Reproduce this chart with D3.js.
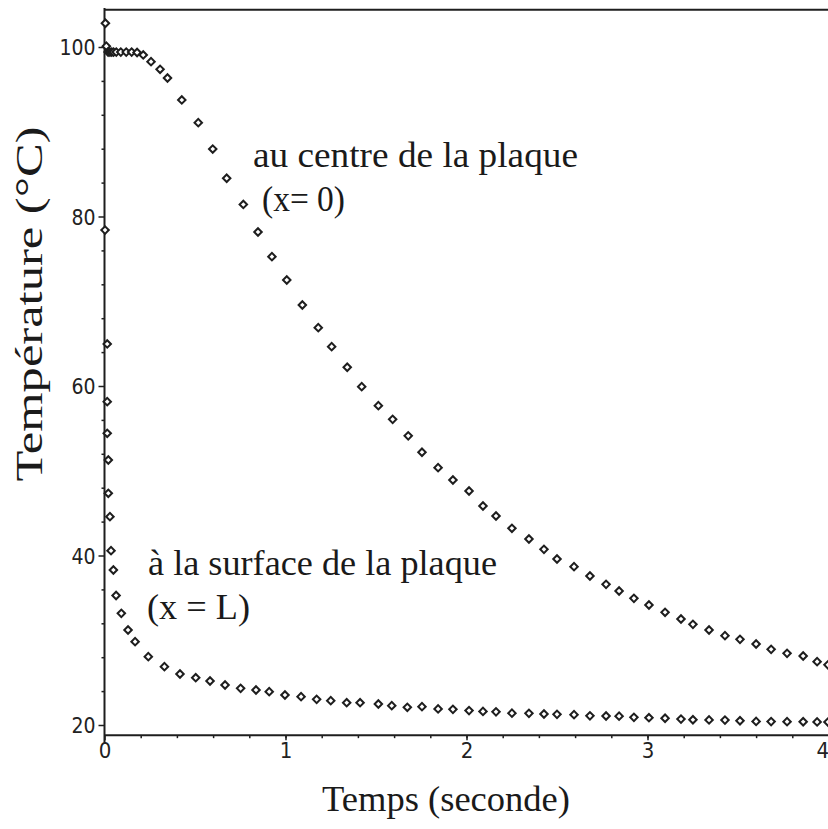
<!doctype html>
<html>
  <head>
    <meta charset="utf-8">
    <title>Température de la plaque</title>
    <script src="https://cdnjs.cloudflare.com/ajax/libs/d3/7.8.5/d3.min.js"></script>
    <style>
      html, body { margin: 0; padding: 0; background: #fff; }
      svg { display: block; }
      .tick text { font-family: "Liberation Sans Narrow", "DejaVu Sans Condensed", "Liberation Sans", sans-serif; fill: #222; }
      .serif { font-family: "Liberation Serif", "Times New Roman", serif; fill: #1a1a1a; }
    </style>
  </head>
  <body>
    <div id="chart"></div>
    <script>
      // temps (s) et température (°C)
      const centreT = [0.01, 0.02, 0.03, 0.04, 0.05, 0.065, 0.09, 0.12, 0.15, 0.18,
        0.214, 0.257, 0.307, 0.348, 0.427, 0.518, 0.598, 0.675, 0.767, 0.848,
        0.925, 1.007, 1.093, 1.181, 1.255, 1.341, 1.421, 1.513, 1.592, 1.678,
        1.754, 1.843, 1.925, 2.014, 2.091, 2.163, 2.251, 2.345, 2.428, 2.5,
        2.594, 2.682, 2.771, 2.843, 2.925, 3.008, 3.097, 3.185, 3.251, 3.34,
        3.428, 3.511, 3.6, 3.683, 3.771, 3.86, 3.937, 3.997];
      const centreTemp = [100.1, 99.4, 99.4, 99.4, 99.4, 99.4, 99.4, 99.4, 99.4, 99.35,
        99.06, 98.27, 97.37, 96.34, 93.75, 91.07, 87.96, 84.51, 81.42, 78.17,
        75.26, 72.51, 69.56, 66.88, 64.64, 62.21, 59.92, 57.68, 56.07, 54.12,
        52.18, 50.36, 48.91, 47.61, 45.84, 44.66, 43.21, 41.95, 40.73, 39.59,
        38.68, 37.58, 36.6, 35.81, 34.95, 34.16, 33.3, 32.51, 31.88, 31.21,
        30.54, 30.11, 29.56, 28.93, 28.46, 28.14, 27.47, 27.1];

      const surfaceT = [0.005, 0.003, 0.015, 0.015, 0.015, 0.021, 0.021, 0.03, 0.036, 0.049,
        0.064, 0.093, 0.13, 0.169, 0.242, 0.331, 0.417, 0.504, 0.583, 0.666,
        0.752, 0.837, 0.91, 0.997, 1.086, 1.172, 1.25, 1.338, 1.412, 1.513,
        1.587, 1.673, 1.754, 1.843, 1.925, 2.014, 2.091, 2.163, 2.251, 2.345,
        2.428, 2.5, 2.594, 2.682, 2.771, 2.843, 2.925, 3.008, 3.097, 3.185,
        3.251, 3.34, 3.428, 3.511, 3.6, 3.683, 3.771, 3.86, 3.937, 3.997];
      const surfaceTemp = [102.8, 78.4, 64.96, 58.15, 54.42, 51.27, 47.34, 44.58, 40.57, 38.29,
        35.28, 33.18, 31.21, 29.83, 28.06, 26.88, 26.02, 25.58, 25.19, 24.72,
        24.33, 24.13, 23.93, 23.54, 23.34, 23.03, 22.87, 22.63, 22.63, 22.48,
        22.28, 22.09, 22.16, 21.9, 21.85, 21.7, 21.6, 21.55, 21.4, 21.38,
        21.3, 21.26, 21.22, 21.08, 21.06, 21.04, 20.9, 20.86, 20.8, 20.7,
        20.62, 20.6, 20.58, 20.5, 20.42, 20.4, 20.39, 20.38, 20.36, 20.35];

      const xTicks = [0, 1, 2, 3, 4];
      const yTicks = [20, 40, 60, 80, 100];
      const xMinor = d3.range(0.2, 4, 0.2);
      const yMinor = d3.range(24, 100, 4).filter(v => v % 20 !== 0);

      const width = 828, height = 829;

      const svg = d3.select('#chart')
        .append('svg')
        .attr('width', width)
        .attr('height', height);

      const x = d3.scaleLinear().domain([0, 4]).range([104.5, 828.5]);
      const y = d3.scaleLinear().domain([20, 100]).range([725, 47]);

      const ink = '#1e1e1e';

      // axe des y : petites graduations puis graduations principales
      svg.append('g')
        .attr('transform', `translate(${x(0)},0)`)
        .call(d3.axisLeft(y).tickValues(yMinor).tickSize(3).tickFormat(''))
        .call(g => g.select('.domain').remove());
      svg.append('g')
        .attr('transform', `translate(${x(0)},0)`)
        .call(d3.axisLeft(y).tickValues(yTicks).tickSize(6).tickPadding(3).tickFormat(d3.format('d')))
        .call(g => g.select('.domain').remove())
        .call(g => g.selectAll('text').attr('font-size', 21).attr('dy', '0.36em'));

      // axe des x
      const yAxisLine = y(18.8);
      svg.append('g')
        .attr('transform', `translate(0,${yAxisLine})`)
        .call(d3.axisBottom(x).tickValues(xMinor).tickSize(3).tickFormat(''))
        .call(g => g.select('.domain').remove());
      svg.append('g')
        .attr('transform', `translate(0,${yAxisLine})`)
        .call(d3.axisBottom(x).tickValues(xTicks).tickSize(5).tickPadding(2).tickFormat(d3.format('d')))
        .call(g => g.select('.domain').remove())
        .call(g => g.selectAll('text').attr('font-size', 22))
        .call(g => g.selectAll('text').filter(d => d === 4).attr('text-anchor', 'end'));

      svg.selectAll('.tick line').attr('stroke', ink).attr('stroke-width', 1.5);

      // cadre
      const frame = svg.append('g').attr('stroke', ink).attr('stroke-width', 2);
      frame.append('line')
        .attr('x1', x(0)).attr('x2', x(0))
        .attr('y1', y(104.6)).attr('y2', y(17.9));
      frame.append('line')
        .attr('x1', x(0)).attr('x2', width)
        .attr('y1', yAxisLine).attr('y2', yAxisLine);
      frame.append('line')
        .attr('x1', x(0)).attr('x2', width)
        .attr('y1', y(104.4)).attr('y2', y(104.4));

      // points (losanges)
      const diamond = d3.symbol().type(d3.symbolSquare).size(28);
      const series = [
        d3.zip(centreT, centreTemp),
        d3.zip(surfaceT, surfaceTemp)
      ];
      series.forEach(pts => {
        svg.append('g')
          .selectAll('path')
          .data(pts)
          .join('path')
          .attr('d', diamond)
          .attr('transform', d => `translate(${x(d[0])},${y(d[1])}) rotate(45)`)
          .attr('fill', '#fff')
          .attr('stroke', ink)
          .attr('stroke-width', 2);
      });

      // textes
      const txt = (s, px, py, len) => svg.append('text')
        .attr('class', 'serif')
        .attr('x', px).attr('y', py)
        .attr('font-size', 36)
        .attr('textLength', len)
        .attr('lengthAdjust', 'spacingAndGlyphs')
        .text(s);

      txt('au centre de la plaque', 253, 167, 325);
      txt('(x= 0)', 262, 211, 83);
      txt('à la surface de la plaque', 148, 575, 349);
      txt('(x = L)', 147, 619, 103);
      txt('Temps (seconde)', 322, 811, 248);

      svg.append('text')
        .attr('class', 'serif')
        .attr('transform', 'translate(42,304) rotate(-90)')
        .attr('text-anchor', 'middle')
        .attr('font-size', 38)
        .attr('textLength', 355)
        .attr('lengthAdjust', 'spacingAndGlyphs')
        .text('Température (°C)');
    </script>
  </body>
</html>
